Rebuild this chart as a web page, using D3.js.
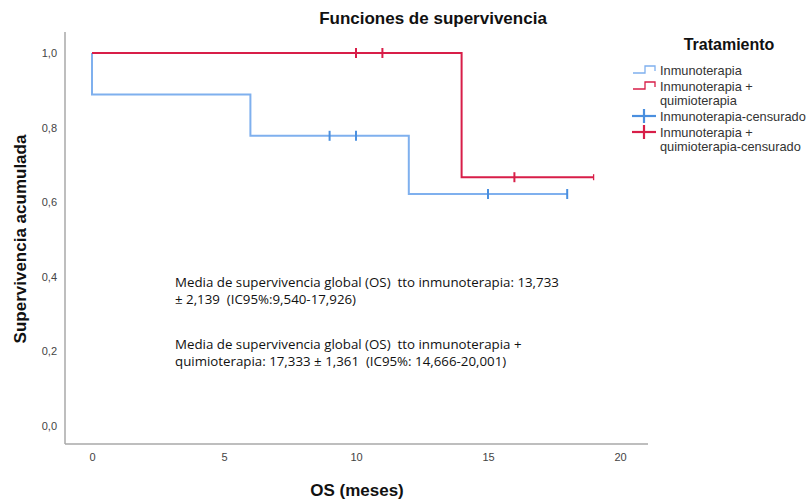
<!DOCTYPE html>
<html lang="es">
<head>
<meta charset="utf-8">
<title>Funciones de supervivencia</title>
<script src="https://cdn.jsdelivr.net/npm/d3@7"></script>
<style>
  body { margin: 0; background: #fff; }
  text { font-family: "Liberation Sans", Arial, sans-serif; }
  .note { font-family: "Open Sans", sans-serif; font-size: 13.3px; fill: #111; white-space: pre; }
</style>
</head>
<body>
<div id="chart"></div>
<script>
// Kaplan-Meier steps (time, cumulative survival)
var inmunoTimes = [0, 0, 6, 12, 18];
var inmunoSurv = [1, 0.889, 0.778, 0.622, 0.622];
var inmunoCensor = [9, 10, 15, 18];

var quimioTimes = [0, 14, 19];
var quimioSurv = [1, 0.667, 0.667];
var quimioCensor = [10, 11, 16, 19];

var xTicks = [0, 5, 10, 15, 20];
var yTicks = [0, 0.2, 0.4, 0.6, 0.8, 1.0];

var legendLabels = [
  ["Inmunoterapia"],
  ["Inmunoterapia +", "quimioterapia"],
  ["Inmunoterapia-censurado"],
  ["Inmunoterapia +", "quimioterapia-censurado"]
];

var notes = [
  ["Media de supervivencia global (OS)  tto inmunoterapia: 13,733", "± 2,139  (IC95%:9,540-17,926)"],
  ["Media de supervivencia global (OS)  tto inmunoterapia +", "quimioterapia: 17,333 ± 1,361  (IC95%: 14,666-20,001)"]
];

var blueLine = "#7fb0ee", blueMark = "#4a8fdf", red = "#d81e48";

var svg = d3.select("#chart").append("svg")
  .attr("width", 811)
  .attr("height", 499);

var x = d3.scaleLinear().domain([0, 20]).range([92, 620]);
var y = d3.scaleLinear().domain([0, 1]).range([426, 53]);

// frame
svg.append("line").attr("x1", 65).attr("x2", 65).attr("y1", 32).attr("y2", 444)
  .attr("stroke", "#a8a8a8").attr("stroke-width", 1.5);
svg.append("line").attr("x1", 65).attr("x2", 648).attr("y1", 444).attr("y2", 444)
  .attr("stroke", "#a8a8a8").attr("stroke-width", 1.5);

// axes (labels only, no tick lines)
var xAxis = svg.append("g")
  .attr("transform", "translate(0,457)")
  .call(d3.axisBottom(x).tickValues(xTicks).tickSize(0).tickFormat(d3.format("d")));
xAxis.select(".domain").remove();
xAxis.selectAll("text").attr("fill", "#444").style("font-size", "11px").attr("dy", "0.32em").attr("y", 0);

var comma = d => d.toFixed(1).replace(".", ",");
var yAxis = svg.append("g")
  .attr("transform", "translate(57,0)")
  .call(d3.axisLeft(y).tickValues(yTicks).tickSize(0).tickFormat(comma));
yAxis.select(".domain").remove();
yAxis.selectAll("text").attr("fill", "#444").style("font-size", "11px").attr("x", 0);

// titles
svg.append("text").attr("x", 433).attr("y", 24).attr("text-anchor", "middle")
  .style("font-size", "17px").style("font-weight", "bold").attr("fill", "#111")
  .text("Funciones de supervivencia");
svg.append("text").attr("x", 357).attr("y", 496).attr("text-anchor", "middle")
  .style("font-size", "17px").style("font-weight", "bold").attr("fill", "#111")
  .text("OS (meses)");
svg.append("text").attr("transform", "translate(26,239) rotate(-90)").attr("text-anchor", "middle")
  .style("font-size", "17px").style("font-weight", "bold").attr("fill", "#111")
  .text("Supervivencia acumulada");

// survival curves
var line = d3.line().x(d => x(d[0])).y(d => y(d[1])).curve(d3.curveStepAfter);
var blueData = d3.zip(inmunoTimes, inmunoSurv);
var redData = d3.zip(quimioTimes, quimioSurv);

svg.append("path").datum(blueData).attr("d", line)
  .attr("fill", "none").attr("stroke", blueLine).attr("stroke-width", 2);
svg.append("path").datum(redData).attr("d", line)
  .attr("fill", "none").attr("stroke", red).attr("stroke-width", 2);

// survival value at a time for a step curve
function survAt(times, surv, t) {
  var s = surv[0];
  for (var i = 0; i < times.length; i++) if (times[i] <= t) s = surv[i];
  return s;
}

svg.selectAll(".cb").data(inmunoCensor).enter().append("line")
  .attr("x1", d => x(d)).attr("x2", d => x(d))
  .attr("y1", d => y(survAt(inmunoTimes, inmunoSurv, d)) - 5)
  .attr("y2", d => y(survAt(inmunoTimes, inmunoSurv, d)) + 5)
  .attr("stroke", blueMark).attr("stroke-width", 2);

svg.selectAll(".cr").data(quimioCensor).enter().append("line")
  .attr("x1", d => x(d)).attr("x2", d => x(d))
  .attr("y1", d => y(survAt(quimioTimes, quimioSurv, d)) - (d === 19 ? 3 : 5))
  .attr("y2", d => y(survAt(quimioTimes, quimioSurv, d)) + (d === 19 ? 3 : 5))
  .attr("stroke", red).attr("stroke-width", d => d === 19 ? 1.3 : 2);

// notes
notes.forEach(function (lines, i) {
  var t = svg.append("text").attr("class", "note")
    .attr("x", 175).attr("y", 287 + i * 62);
  lines.forEach(function (l, j) {
    t.append("tspan").attr("x", 175).attr("dy", j ? 17 : 0).text(l);
  });
});

// legend
svg.append("text").attr("x", 729).attr("y", 50).attr("text-anchor", "middle")
  .style("font-size", "16px").style("font-weight", "bold").attr("fill", "#111")
  .text("Tratamiento");

var legendY = [70, 86, 116, 132];
legendLabels.forEach(function (lines, i) {
  var g = svg.append("g").attr("transform", "translate(0," + legendY[i] + ")");
  var col = (i % 2 === 0) ? blueLine : red;
  if (i < 2) {
    g.append("path").attr("d", "M633,3 H645 V-4 H655 V1")
      .attr("fill", "none").attr("stroke", col).attr("stroke-width", 1.3);
  } else {
    var mc = i === 2 ? blueMark : red;
    g.append("line").attr("x1", 632).attr("x2", 656).attr("y1", 0).attr("y2", 0)
      .attr("stroke", mc).attr("stroke-width", 2.2);
    g.append("line").attr("x1", 644).attr("x2", 644).attr("y1", -7).attr("y2", 7)
      .attr("stroke", mc).attr("stroke-width", 2.2);
  }
  var t = g.append("text").attr("x", 660).attr("y", 5)
    .style("font-size", "12.8px").attr("fill", "#333");
  lines.forEach(function (l, j) {
    t.append("tspan").attr("x", 660).attr("dy", j ? 14 : 0).text(l);
  });
});
</script>
</body>
</html>
